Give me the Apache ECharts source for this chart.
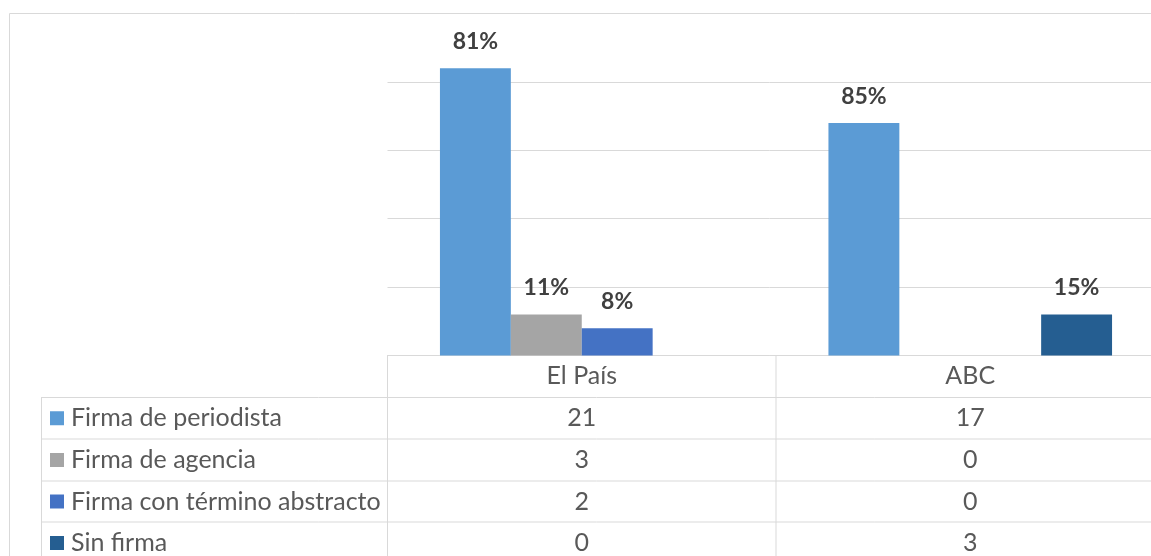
<!DOCTYPE html>
<html>
<head>
<meta charset="utf-8">
<script src="https://cdn.jsdelivr.net/npm/echarts@6/dist/echarts.min.js"></script>
<style>
html,body{margin:0;padding:0;background:#fff;}
#chart{width:1151px;height:556px;}
</style>
</head>
<body>
<div id="chart"></div>
<script>
// ---- data ----
const categories = ['El País', 'ABC'];
const seriesNames = ['Firma de periodista', 'Firma de agencia', 'Firma con término abstracto', 'Sin firma'];
const periodista = [21, 17];
const agencia = [3, 0];
const abstracto = [2, 0];
const sinFirma = [0, 3];
const pctPeriodista = ['81%', '85%'];
const pctAgencia = ['11%', ''];
const pctAbstracto = ['8%', ''];
const pctSinFirma = ['', '15%'];
const yTicks = [0, 5, 10, 15, 20, 25];

const values = [periodista, agencia, abstracto, sinFirma];
const pcts = [pctPeriodista, pctAgencia, pctAbstracto, pctSinFirma];
const colors = ['#5B9BD5', '#A5A5A5', '#4472C4', '#255E91'];

const FONT = 'Lato, "Open Sans", sans-serif';
const FS = 25;
const GRID_LEFT = 387.5, CAT_W = 388.5, GRID_TOP = 13.5, AXIS_Y = 355.5;
const ROW_Y = [355.5, 397.5, 439, 481, 522, 564];
const TABLE_LEFT = 41;
const LINE = '#d9d9d9';
const TXT = '#595959';

const chart = echarts.init(document.getElementById('chart'), null, {renderer: 'canvas'});

const series = seriesNames.map((name, s) => ({
  name: name,
  type: 'bar',
  data: values[s],
  barGap: '0%',
  barCategoryGap: '27%',
  itemStyle: {color: colors[s]},
  label: {
    show: true,
    position: 'top',
    distance: 15,
    fontFamily: FONT,
    fontWeight: 'bold',
    fontSize: 23,
    color: '#404040',
    formatter: p => pcts[s][p.dataIndex]
  },
  silent: true,
  animation: false
}));

chart.setOption({
  animation: false,
  grid: {left: GRID_LEFT, top: GRID_TOP, width: CAT_W * categories.length, height: AXIS_Y - GRID_TOP, outerBoundsMode: 'none', containLabel: false},
  xAxis: {
    type: 'category',
    data: categories,
    axisLine: {show: true, lineStyle: {color: LINE, width: 1}},
    axisTick: {show: false},
    axisLabel: {margin: 8, fontFamily: FONT, fontSize: FS, color: TXT}
  },
  yAxis: {
    type: 'value',
    min: yTicks[0],
    max: yTicks[yTicks.length - 1],
    interval: yTicks[1] - yTicks[0],
    axisLine: {show: false},
    axisTick: {show: false},
    axisLabel: {show: false},
    splitLine: {lineStyle: {color: LINE, width: 1}}
  },
  series: series
});

// ---- data table under the axis ----
const g = [];
// outer chart border (right / bottom lie outside the view)
g.push({type: 'rect', shape: {x: 9.5, y: 13.5, width: 1400, height: 800}, style: {fill: 'none', stroke: LINE, lineWidth: 1}, silent: true, z: -1});
const catX = categories.map((c, i) => chart.convertToPixel({xAxisIndex: 0}, c));
const rightX = GRID_LEFT + CAT_W * categories.length;
// horizontal row lines
for (let r = 1; r < ROW_Y.length; r++) {
  g.push({type: 'line', shape: {x1: TABLE_LEFT, y1: ROW_Y[r], x2: rightX, y2: ROW_Y[r]}, style: {stroke: LINE, lineWidth: 1}, silent: true});
}
// vertical lines
g.push({type: 'line', shape: {x1: TABLE_LEFT + 0.5, y1: ROW_Y[1], x2: TABLE_LEFT + 0.5, y2: 600}, style: {stroke: LINE, lineWidth: 1}, silent: true});
for (let i = 0; i <= categories.length; i++) {
  const x = GRID_LEFT + CAT_W * i;
  g.push({type: 'line', shape: {x1: x, y1: ROW_Y[0], x2: x, y2: 600}, style: {stroke: LINE, lineWidth: 1}, silent: true});
}
// row headers + values
seriesNames.forEach((name, s) => {
  const cy = (ROW_Y[s + 1] + ROW_Y[s + 2]) / 2;
  g.push({type: 'rect', shape: {x: 50, y: cy - 7, width: 14, height: 14}, style: {fill: colors[s]}, silent: true});
  g.push({type: 'text', x: 71, y: cy, style: {text: name, fill: TXT, font: FS + 'px ' + FONT, textAlign: 'left', textVerticalAlign: 'middle', align: 'left', verticalAlign: 'middle'}, silent: true});
  values[s].forEach((v, i) => {
    g.push({type: 'text', x: catX[i], y: cy, style: {text: String(v), fill: TXT, font: FS + 'px ' + FONT, textAlign: 'center', textVerticalAlign: 'middle', align: 'center', verticalAlign: 'middle'}, silent: true});
  });
});
chart.setOption({graphic: {elements: g}});
</script>
</body>
</html>
